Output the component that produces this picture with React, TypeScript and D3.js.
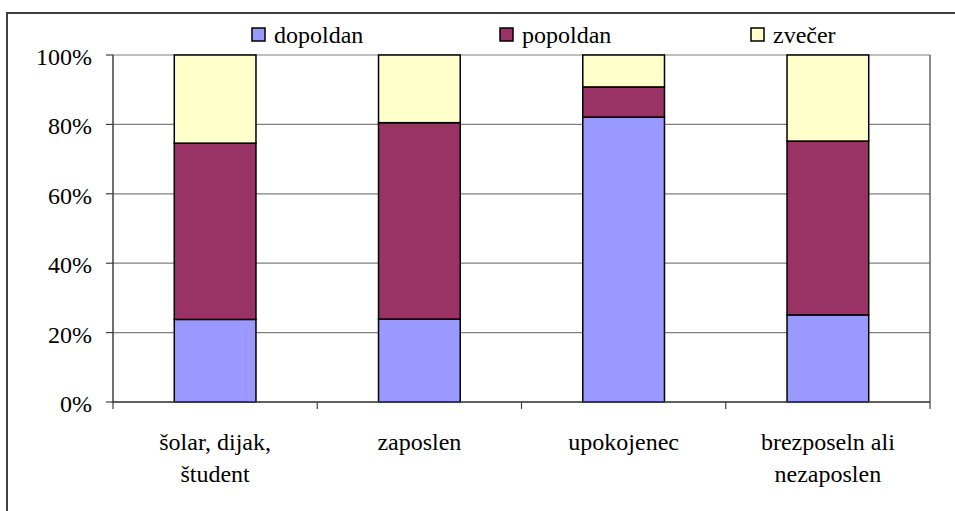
import React from "react";
import * as d3 from "d3";

const categories: string[][] = [
  ["šolar, dijak,", "študent"],
  ["zaposlen"],
  ["upokojenec"],
  ["brezposeln ali", "nezaposlen"],
];
const seriesNames = ["dopoldan", "popoldan", "zvečer"];
const seriesColors = ["#9999FF", "#993366", "#FFFFCC"];
const dopoldan = [23.8, 23.9, 82.1, 25.1];
const popoldan = [50.8, 56.6, 8.7, 50.1];
const zvecer = [25.4, 19.5, 9.2, 24.8];
const yTicks = [0, 20, 40, 60, 80, 100];

const W = 955;
const H = 511;
const M = { left: 113, right: 930, top: 55, bottom: 402 };

const CSS = "#chart text, #chart tspan { font-family: 'Liberation Serif', 'Times New Roman', Tinos, serif !important; font-size: 24px !important; }";

function T(props: any) {
  const { children, ...rest } = props;
  return (
    <text {...rest} fontFamily="Times New Roman" fontSize={24} fill="#000" className="lbl">
      {children}
    </text>
  );
}

export default function App() {
  const keys = categories.map((_, i) => String(i));
  const x = d3.scaleBand<string>().domain(keys).range([M.left, M.right]).padding(0);
  const y = d3.scaleLinear().domain([0, 100]).range([M.bottom, M.top]);
  const rows = categories.map((_, i) => ({
    key: String(i),
    dopoldan: dopoldan[i],
    popoldan: popoldan[i],
    zvecer: zvecer[i],
  }));
  const stack = d3.stack<any>().keys(["dopoldan", "popoldan", "zvecer"]).offset(d3.stackOffsetExpand);
  const layers = stack(rows);
  const bw = x.bandwidth() * 0.4;
  const legendX = [252, 500, 751];

  return (
    <svg id="chart" width={W} height={H} style={{ position: "absolute", left: 0, top: 0 }}>
      <style>{CSS}</style>
      <rect x={0} y={0} width={W} height={H} fill="#fff" />
      <path d={`M7,${H + 5} V13 H${W + 5}`} fill="none" stroke="#404040" strokeWidth={2} />
      {yTicks.map((t) => (
        <line key={t} x1={M.left} x2={M.right} y1={y(t)} y2={y(t)} stroke="#808080" strokeWidth={1.2} />
      ))}
      <line x1={M.right} x2={M.right} y1={M.top} y2={M.bottom} stroke="#404040" strokeWidth={1.2} />
      {layers.map((layer, li) =>
        layer.map((d, i) => {
          const cx = (x(String(i)) as number) + x.bandwidth() / 2;
          return (
            <rect
              key={li + "-" + i}
              x={cx - bw / 2}
              y={y(d[1] * 100)}
              width={bw}
              height={y(d[0] * 100) - y(d[1] * 100)}
              fill={seriesColors[li]}
              stroke="#000"
              strokeWidth={1.5}
            />
          );
        })
      )}
      <line x1={M.left} x2={M.left} y1={M.top} y2={M.bottom + 1} stroke="#404040" strokeWidth={1.5} />
      {yTicks.map((t) => (
        <g key={t}>
          <line x1={M.left - 7} x2={M.left} y1={y(t)} y2={y(t)} stroke="#404040" strokeWidth={1.2} />
          <T x={92} y={y(t) + 10} textAnchor="end">
            {t + "%"}
          </T>
        </g>
      ))}
      <line x1={M.left} x2={M.right} y1={M.bottom} y2={M.bottom} stroke="#404040" strokeWidth={1.5} />
      {[...keys.map((k) => x(k) as number), M.right].map((px, i) => (
        <line key={i} x1={px} x2={px} y1={M.bottom} y2={M.bottom + 7} stroke="#404040" strokeWidth={1.2} />
      ))}
      {categories.map((lines, i) => {
        const cx = (x(String(i)) as number) + x.bandwidth() / 2;
        return (
          <g key={i}>
            {lines.map((ln, j) => (
              <T key={j} x={cx} y={450 + j * 32} textAnchor="middle">
                {ln}
              </T>
            ))}
          </g>
        );
      })}
      {seriesNames.map((n, i) => (
        <g key={n}>
          <rect x={legendX[i]} y={28} width={13} height={13} fill={seriesColors[i]} stroke="#000" strokeWidth={1.5} />
          <T x={legendX[i] + 22} y={43}>
            {n}
          </T>
        </g>
      ))}
    </svg>
  );
}
